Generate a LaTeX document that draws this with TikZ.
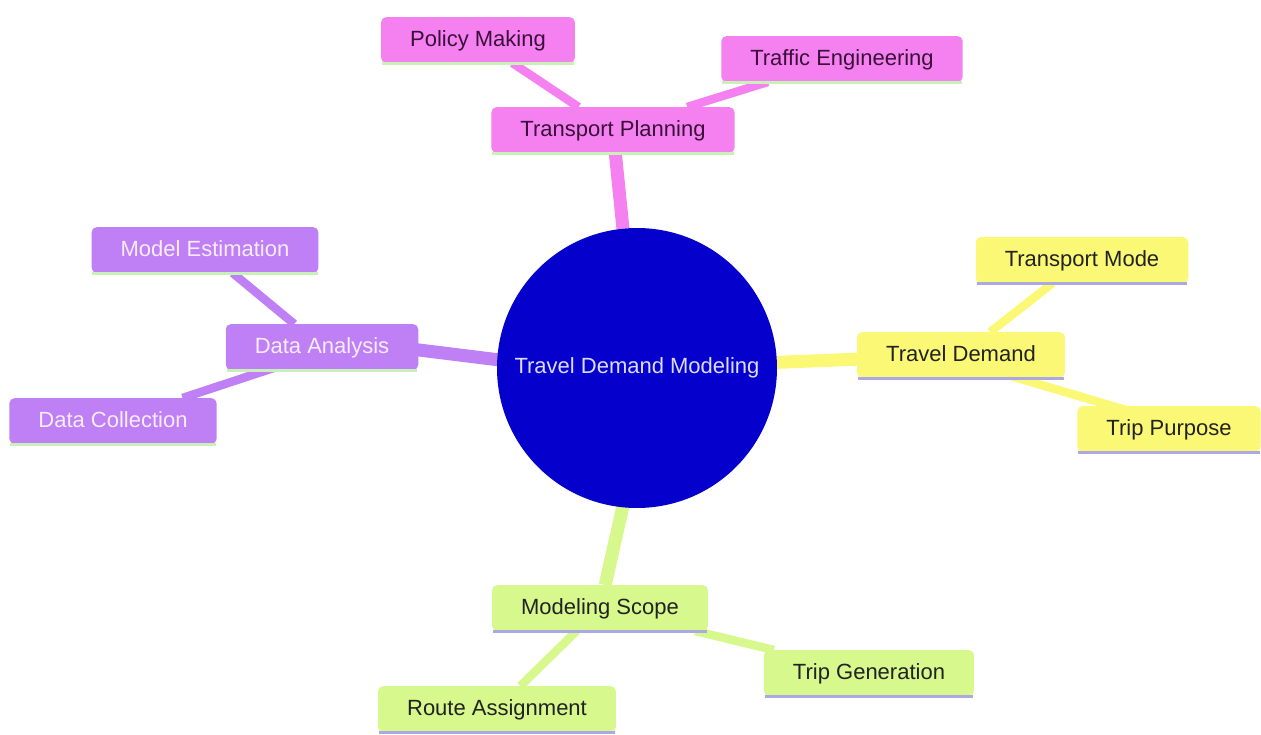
\documentclass[tikz,border=0pt]{standalone}
\usepackage{fontspec}
\setmainfont{Liberation Sans}
\usetikzlibrary{calc}
\definecolor{pinkf}{HTML}{F580F0}
\definecolor{purpf}{HTML}{BF80F5}
\definecolor{yelf}{HTML}{FAF874}
\definecolor{grnf}{HTML}{D6F88C}
\definecolor{pinkt}{HTML}{3A103A}
\definecolor{purpt}{HTML}{F8ECFF}
\definecolor{darkt}{HTML}{222222}
\definecolor{lgreen}{HTML}{C8F0B8}
\definecolor{lavl}{HTML}{ACA8E4}
\definecolor{rootf}{HTML}{0600CC}
\definecolor{roott}{HTML}{DCDCFF}
\pgfdeclarelayer{bg}
\pgfsetlayers{bg,main}
\tikzset{
  box/.style={rounded corners=5pt, inner xsep=29pt, inner ysep=12.5pt,
    text height=17pt, text depth=3.6pt, font=\fontsize{22}{26}\selectfont},
  pinkbox/.style={box, fill=pinkf, text=pinkt},
  purpbox/.style={box, fill=purpf, text=purpt},
  yelbox/.style={box, fill=yelf, text=darkt},
  grnbox/.style={box, fill=grnf, text=darkt},
  rootnode/.style={circle, fill=rootf, minimum size=280pt, inner sep=0pt,
    text=roott, font=\fontsize{22}{26}\selectfont},
  mainedge/.style={line width=13pt},
  leafedge/.style={line width=8.5pt},
  underline/.style={line width=3pt}
}
\begin{document}
\begin{tikzpicture}[x=1pt,y=-1pt]
\useasboundingbox (0,0) rectangle (1261,735);
\node[rootnode] (c) at (637,368) {Travel Demand Modeling};
% pink
\node[pinkbox] (tp) at (613,130) {Transport Planning};
\node[pinkbox] (pm) at (478,40) {Policy Making};
\node[pinkbox] (te) at (842,59) {Traffic Engineering};
% purple
\node[purpbox] (da) at (322,347) {Data Analysis};
\node[purpbox] (me) at (205,250) {Model Estimation};
\node[purpbox] (dc) at (113,421) {Data Collection};
% yellow
\node[yelbox] (td) at (961,355) {Travel Demand};
\node[yelbox] (tm) at (1082,260) {Transport Mode};
\node[yelbox] (tpu) at (1169,429) {Trip Purpose};
% green
\node[grnbox] (ms) at (600,608) {Modeling Scope};
\node[grnbox] (tg) at (869,673) {Trip Generation};
\node[grnbox] (ra) at (497,709) {Route Assignment};
% underlines
\foreach \n/\col in {tp/lgreen, pm/lgreen, te/lgreen, da/lgreen, me/lgreen, dc/lgreen,
  td/lavl, tm/lavl, tpu/lavl, ms/lavl, tg/lavl, ra/lavl}{
  \draw[underline, \col] ([xshift=1pt,yshift=-0.5pt]\n.south west) -- ([xshift=-1pt,yshift=-0.5pt]\n.south east);
}
\begin{pgfonlayer}{bg}
\draw[mainedge, pinkf] (c) -- (tp);
\draw[mainedge, purpf] ($(c)+(0,9)$) -- ($(da)+(0,-9)$);
\draw[mainedge, yelf] (c) -- (td);
\draw[mainedge, grnf] ($(c)+(17,0)$) -- (ms);
\draw[leafedge, pinkf] (pm) -- (tp);
\draw[leafedge, pinkf] (te) -- (tp);
\draw[leafedge, purpf] (me) -- (da);
\draw[leafedge, purpf] (dc) -- ($(da)+(15,0)$);
\draw[leafedge, yelf] (tm) -- (td);
\draw[leafedge, yelf] ($(td)+(-21,0)$) -- ($(tpu)+(21,0)$);
\draw[leafedge, grnf] (ms) -- (tg);
\draw[leafedge, grnf] (ms) -- (ra);
\end{pgfonlayer}
\end{tikzpicture}
\end{document}
